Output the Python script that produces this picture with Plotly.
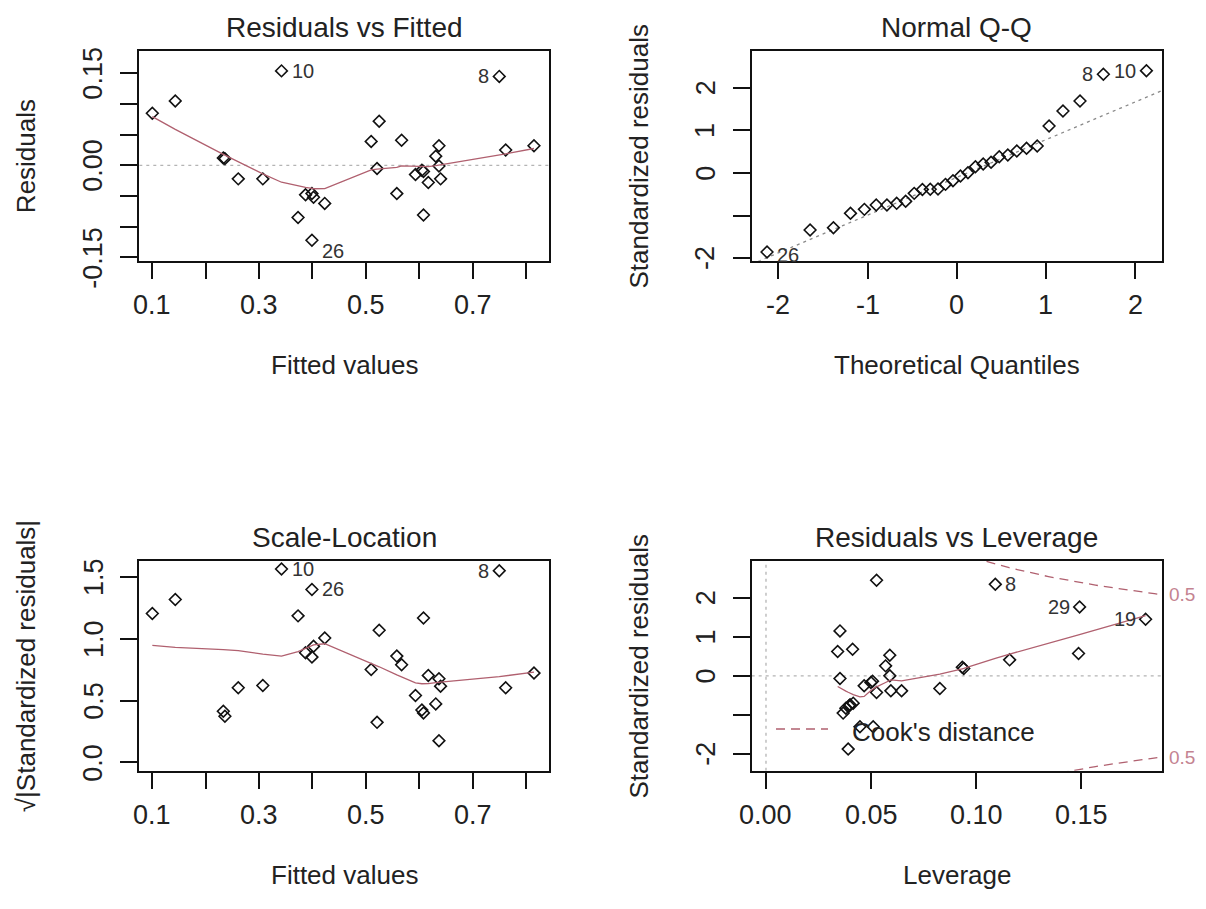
import numpy as np
import plotly.graph_objects as go

W, H = 1206, 909
FONT = "Liberation Sans, Arial, sans-serif"
TXT = "#222222"
RED = "#B0606F"

# ---------------- data ----------------
# Residuals vs Fitted (one entry per observation)
fitted = [0.100, 0.143, 0.342, 0.750, 0.233, 0.236, 0.261, 0.307, 0.373, 0.387,
          0.399, 0.402, 0.423, 0.399, 0.510, 0.525, 0.521, 0.567, 0.558, 0.593,
          0.605, 0.608, 0.608, 0.617, 0.631, 0.637, 0.637, 0.640, 0.762, 0.815]
residuals = [0.085, 0.105, 0.154, 0.145, 0.012, 0.011, -0.022, -0.022, -0.085, -0.048,
             -0.046, -0.052, -0.062, -0.122, 0.039, 0.072, -0.005, 0.041, -0.046, -0.015,
             -0.008, -0.010, -0.081, -0.028, 0.015, 0.032, -0.001, -0.022, 0.025, 0.032]
# Scale-Location: sqrt(|standardized residuals|), same observation order
sqrt_abs_std = [1.203, 1.316, 1.562, 1.549, 0.414, 0.373, 0.603, 0.622, 1.184, 0.886,
                0.851, 0.938, 1.005, 1.397, 0.751, 1.068, 0.324, 0.789, 0.859, 0.541,
                0.424, 0.400, 1.167, 0.703, 0.473, 0.676, 0.176, 0.616, 0.603, 0.722]
# Residuals vs Leverage, same observation order
leverage = [0.1806, 0.1492, 0.0526, 0.1091, 0.0934, 0.0941, 0.0827, 0.0645, 0.0447, 0.0415,
            0.0400, 0.0380, 0.0367, 0.0391, 0.0341, 0.0352, 0.0352, 0.0412, 0.0396, 0.0467,
            0.0507, 0.0499, 0.0510, 0.0526, 0.0569, 0.0589, 0.0589, 0.0594, 0.1159, 0.1487]
std_resid_lev = [1.447, 1.762, 2.443, 2.340, 0.221, 0.187, -0.323, -0.383, -1.302, -0.698,
                 -0.740, -0.826, -0.953, -1.872, 0.621, 1.149, -0.068, 0.681, -0.766, -0.255,
                 -0.136, -0.170, -1.302, -0.426, 0.255, 0.528, 0.000, -0.383, 0.409, 0.570]
# Normal Q-Q (theoretical quantiles and sorted standardized residuals)
theo_q = [-2.128, -1.645, -1.383, -1.192, -1.036, -0.903, -0.783, -0.674, -0.573, -0.477,
          -0.385, -0.297, -0.210, -0.126, -0.042, 0.042, 0.126, 0.210, 0.297, 0.385,
          0.477, 0.573, 0.674, 0.783, 0.903, 1.036, 1.192, 1.383, 1.645, 2.128]
qq_std = [-1.852, -1.336, -1.281, -0.945, -0.852, -0.750, -0.750, -0.711, -0.664, -0.477,
          -0.385, -0.380, -0.375, -0.266, -0.180, -0.070, 0.008, 0.148, 0.211, 0.250,
          0.383, 0.422, 0.516, 0.578, 0.633, 1.102, 1.453, 1.688, 2.313, 2.398]

# point labels
id_labels = ["10", "8", "26"]
id_index = [2, 3, 13]
id_side = ["right", "left", "right"]
qq_labels = ["26", "8", "10"]
qq_index = [0, 28, 29]
qq_side = ["right", "left", "left"]
lev_labels = ["19", "29", "8"]
lev_index = [0, 1, 3]
lev_side = ["left", "left", "right"]

cook_level = 0.5
n_params = 2

titles = ["Residuals vs Fitted", "Normal Q-Q", "Scale-Location", "Residuals vs Leverage"]
xtitles = ["Fitted values", "Theoretical Quantiles", "Fitted values", "Leverage"]
ytitles = ["Residuals", "Standardized residuals", "√|Standardized residuals|", "Standardized residuals"]

fit_ticks = [0.1, 0.2, 0.3, 0.4, 0.5, 0.6, 0.7, 0.8]
fit_ticktext = ["0.1", "", "0.3", "", "0.5", "", "0.7", ""]
res_ticks = [-0.15, -0.10, -0.05, 0.0, 0.05, 0.10, 0.15]
res_ticktext = ["-0.15", "", "", "0.00", "", "", "0.15"]
q_ticks = [-2, -1, 0, 1, 2]
qx_ticktext = ["-2", "-1", "0", "1", "2"]
qy_ticktext = ["-2", "", "0", "1", "2"]
sl_ticks = [0.0, 0.5, 1.0, 1.5]
sl_ticktext = ["0.0", "0.5", "1.0", "1.5"]
lev_ticks = [0.0, 0.05, 0.10, 0.15]
lev_ticktext = ["0.00", "0.05", "0.10", "0.15"]


# ---------------- R-style lowess ----------------
def _lowest(x, y, xs, nleft, nright, rw, userw):
    n = len(x)
    rng = x[-1] - x[0]
    h = max(xs - x[nleft], x[nright] - xs)
    h9, h1 = 0.999 * h, 0.001 * h
    w = np.zeros(n)
    a = 0.0
    j = nleft
    while j < n:
        r = abs(x[j] - xs)
        if r <= h9:
            w[j] = 1.0 if r <= h1 else (1 - (r / h) ** 3) ** 3
            if userw:
                w[j] *= rw[j]
            a += w[j]
        elif x[j] > xs:
            break
        j += 1
    nrt = j - 1
    if a <= 0:
        return None
    sl = slice(nleft, nrt + 1)
    w[sl] /= a
    if h > 0:
        a = np.sum(w[sl] * x[sl])
        b = xs - a
        c = np.sum(w[sl] * (x[sl] - a) ** 2)
        if np.sqrt(c) > 0.001 * rng:
            b /= c
            w[sl] *= (b * (x[sl] - a) + 1)
    return np.sum(w[sl] * y[sl])


def lowess(x, y, f=2 / 3, it=3):
    x = np.asarray(x, float)
    y = np.asarray(y, float)
    o = np.argsort(x, kind="stable")
    x, y = x[o], y[o]
    n = len(x)
    delta = 0.01 * (x[-1] - x[0])
    ns = max(min(int(f * n + 1e-7), n), 2)
    rw = np.ones(n)
    ys = np.zeros(n)
    for iteration in range(it + 1):
        nleft, nright, last, i = 0, ns - 1, -1, 0
        while True:
            if nright < n - 1:
                if x[i] - x[nleft] > x[nright + 1] - x[i]:
                    nleft += 1
                    nright += 1
                    continue
            v = _lowest(x, y, x[i], nleft, nright, rw, iteration > 0)
            ys[i] = y[i] if v is None else v
            if last < i - 1:
                denom = x[i] - x[last]
                for j in range(last + 1, i):
                    al = (x[j] - x[last]) / denom
                    ys[j] = al * ys[i] + (1 - al) * ys[last]
            last = i
            cut = x[last] + delta
            i = last + 1
            while i < n:
                if x[i] > cut:
                    break
                if x[i] == x[last]:
                    ys[i] = ys[last]
                    last = i
                i += 1
            i = max(last + 1, i - 1)
            if last >= n - 1:
                break
        if iteration >= it:
            break
        res = np.abs(y - ys)
        cmad = 6 * np.median(res)
        if cmad < 1e-7 * np.mean(np.abs(y)):
            break
        c9, c1 = 0.999 * cmad, 0.001 * cmad
        rw = np.where(res <= c1, 1.0, np.where(res <= c9, (1 - (res / cmad) ** 2) ** 2, 0.0))
    return x, ys


# ---------------- layout geometry (pixels) ----------------
boxes = [  # left, right, top, bottom
    (139.3, 549.3, 51.0, 260.7),
    (751.7, 1162.2, 51.0, 260.7),
    (139.3, 549.3, 561.0, 770.7),
    (751.7, 1162.2, 561.0, 770.7),
]
ranges = [
    ((0.0756, 0.8437), (-0.1554, 0.1864)),
    ((-2.30, 2.305), (-2.055, 2.859)),
    ((0.0756, 0.8437), (-0.0665, 1.627)),
    ((-0.0068, 0.1885), (-2.425, 2.936)),
]

fig = go.Figure()
marker = dict(symbol="diamond-open", size=9, color="#111111", line=dict(width=1.6, color="#111111"))
GRAYDOT = dict(color="#B4B4B4", width=1.3, dash="3px,4px")


def ax(k):
    return ("x" if k == 0 else f"x{k+1}"), ("y" if k == 0 else f"y{k+1}")


# Panel 1
xa, ya = ax(0)
fig.add_trace(go.Scatter(x=list(ranges[0][0]), y=[0, 0], mode="lines", line=GRAYDOT,
                         xaxis=xa, yaxis=ya, hoverinfo="skip"))
fig.add_trace(go.Scatter(x=fitted, y=residuals, mode="markers", marker=marker, xaxis=xa, yaxis=ya))
lx, ly = lowess(fitted, residuals)
fig.add_trace(go.Scatter(x=lx, y=ly, mode="lines", line=dict(color=RED, width=1.3), xaxis=xa, yaxis=ya))

# Panel 2 (Q-Q)
xa, ya = ax(1)
q25, q75 = np.percentile(qq_std, [25, 75])
tq = 0.6744897501960817
slope = (q75 - q25) / (2 * tq)
inter = q25 + slope * tq
qx = np.array(ranges[1][0])
fig.add_trace(go.Scatter(x=qx, y=inter + slope * qx, mode="lines",
                         line=dict(color="#8A8A8A", width=1.3, dash="3px,4px"),
                         xaxis=xa, yaxis=ya, hoverinfo="skip"))
fig.add_trace(go.Scatter(x=theo_q, y=qq_std, mode="markers", marker=marker, xaxis=xa, yaxis=ya))

# Panel 3 (Scale-Location)
xa, ya = ax(2)
fig.add_trace(go.Scatter(x=fitted, y=sqrt_abs_std, mode="markers", marker=marker, xaxis=xa, yaxis=ya))
lx, ly = lowess(fitted, sqrt_abs_std)
fig.add_trace(go.Scatter(x=lx, y=ly, mode="lines", line=dict(color=RED, width=1.3), xaxis=xa, yaxis=ya))

# Panel 4 (Residuals vs Leverage)
xa, ya = ax(3)
fig.add_trace(go.Scatter(x=list(ranges[3][0]), y=[0, 0], mode="lines", line=GRAYDOT,
                         xaxis=xa, yaxis=ya, hoverinfo="skip"))
fig.add_trace(go.Scatter(x=[0, 0], y=list(ranges[3][1]), mode="lines", line=GRAYDOT,
                         xaxis=xa, yaxis=ya, hoverinfo="skip"))
hmax = ranges[3][0][1]
hh = np.linspace(min(min(leverage), max(leverage) / 100), hmax, 101)
cl = np.sqrt(cook_level * n_params * (1 - hh) / hh)
for sgn in (1, -1):
    fig.add_trace(go.Scatter(x=hh, y=sgn * cl, mode="lines",
                             line=dict(color=RED, width=1.3, dash="9px,6px"),
                             xaxis=xa, yaxis=ya, hoverinfo="skip"))
fig.add_trace(go.Scatter(x=leverage, y=std_resid_lev, mode="markers", marker=marker, xaxis=xa, yaxis=ya))
lx, ly = lowess(leverage, std_resid_lev)
fig.add_trace(go.Scatter(x=lx, y=ly, mode="lines", line=dict(color=RED, width=1.3), xaxis=xa, yaxis=ya))

# ---------------- axes ----------------
tickinfo = [
    (fit_ticks, fit_ticktext, res_ticks, res_ticktext),
    (q_ticks, qx_ticktext, q_ticks, qy_ticktext),
    (fit_ticks, fit_ticktext, sl_ticks, sl_ticktext),
    (lev_ticks, lev_ticktext, q_ticks, qy_ticktext),
]
common = dict(showgrid=False, zeroline=False, showline=True, mirror=True,
              linecolor="#111111", linewidth=1.8, ticks="outside",
              tickwidth=1.6, tickcolor="#111111", showticklabels=False)
lay = {}
annotations = []
TICKFONT = dict(family=FONT, size=27, color=TXT)
for k, (l, r, t, b) in enumerate(boxes):
    xt, xtt, yt, ytt = tickinfo[k]
    xname = "xaxis" if k == 0 else f"xaxis{k+1}"
    yname = "yaxis" if k == 0 else f"yaxis{k+1}"
    xa, ya = ax(k)
    lay[xname] = dict(common, domain=[l / W, r / W], range=list(ranges[k][0]),
                      tickmode="array", tickvals=xt, anchor=ya, ticklen=16)
    lay[yname] = dict(common, domain=[1 - b / H, 1 - t / H], range=list(ranges[k][1]),
                      tickmode="array", tickvals=yt, anchor=xa, ticklen=17)
    # tick labels (R-style, some dropped)
    for v, s in zip(xt, xtt):
        if s:
            annotations.append(dict(xref=xa, yref="paper", x=v, y=1 - (b + 44) / H, text=s,
                                    showarrow=False, xanchor="center", yanchor="middle",
                                    font=TICKFONT))
    for v, s in zip(yt, ytt):
        if s:
            annotations.append(dict(xref="paper", yref=ya, x=(l - 46) / W, y=v, text=s,
                                    showarrow=False, xanchor="center", yanchor="middle",
                                    textangle=-90, font=TICKFONT))
    cx = (l + r) / 2
    annotations.append(dict(xref="paper", yref="paper", x=cx / W, y=1 - (t - 24) / H,
                            text=titles[k], showarrow=False, xanchor="center", yanchor="middle",
                            font=dict(family=FONT, size=28, color=TXT)))
    annotations.append(dict(xref="paper", yref="paper", x=cx / W, y=1 - (b + 104) / H,
                            text=xtitles[k], showarrow=False, xanchor="center", yanchor="middle",
                            font=dict(family=FONT, size=26, color=TXT)))
    annotations.append(dict(xref="paper", yref="paper", x=(l - 113) / W, y=1 - ((t + b) / 2) / H,
                            text=ytitles[k], showarrow=False, xanchor="center", yanchor="middle",
                            textangle=-90, font=dict(family=FONT, size=26, color=TXT)))


def add_labels(k, xs, ys, labels, idx, sides, neg_shift):
    xa, ya = ax(k)
    for lab, i, s in zip(labels, idx, sides):
        yv = ys[i]
        annotations.append(dict(xref=xa, yref=ya, x=xs[i], y=yv, text=lab, showarrow=False,
                                xanchor="left" if s == "right" else "right", yanchor="middle",
                                xshift=8 if s == "right" else -8,
                                yshift=(neg_shift if yv < 0 else 0),
                                font=dict(family=FONT, size=20, color="#333333")))


add_labels(0, fitted, residuals, id_labels, id_index, id_side, -11)
add_labels(1, theo_q, qq_std, qq_labels, qq_index, qq_side, -3)
add_labels(2, fitted, sqrt_abs_std, id_labels, id_index, id_side, 0)
add_labels(3, leverage, std_resid_lev, lev_labels, lev_index, lev_side, 0)

# Cook's distance level labels and legend
xa, ya = ax(3)
for sgn in (1, -1):
    annotations.append(dict(xref=xa, yref=ya, x=hmax, y=sgn * cl[-1], text=str(cook_level),
                            showarrow=False, xanchor="left", yanchor="middle", xshift=5,
                            font=dict(family=FONT, size=19, color="#C48391")))
fig.add_shape(type="line", xref="paper", yref="paper", x0=776 / W, x1=828 / W,
              y0=1 - 729 / H, y1=1 - 729 / H, line=dict(color=RED, width=1.3, dash="9px,6px"))
annotations.append(dict(xref="paper", yref="paper", x=850 / W, y=1 - 732 / H, text="Cook's distance",
                        showarrow=False, xanchor="left", yanchor="middle",
                        font=dict(family=FONT, size=26, color=TXT)))

fig.update_layout(width=W, height=H, autosize=False, showlegend=False,
                  margin=dict(l=0, r=0, t=0, b=0),
                  paper_bgcolor="white", plot_bgcolor="white",
                  annotations=annotations, **lay)
fig.write_html("out.html", config={"displayModeBar": False},
               post_script="document.body.style.margin='0';document.body.style.padding='0';"
                           "document.body.style.overflow='hidden';")
